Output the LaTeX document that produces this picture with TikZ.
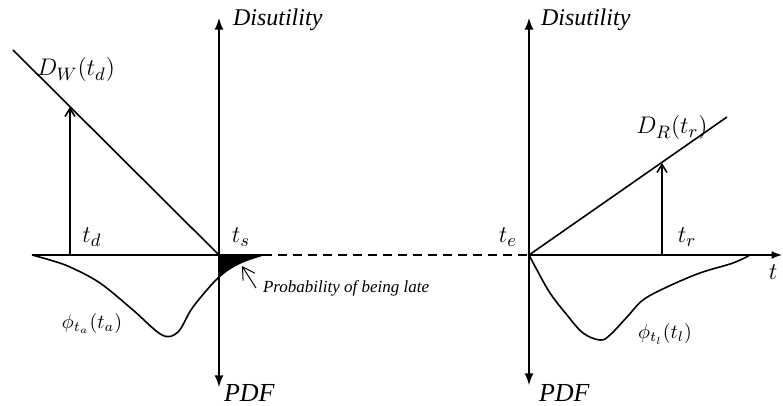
\documentclass[tikz,border=0pt]{standalone}
\usepackage{fontspec}
\setmainfont{Liberation Serif}
\usetikzlibrary{arrows.meta}

\begin{document}
\begin{tikzpicture}[x=0.5pt,y=-0.5pt,font=\fontsize{12.5}{14}\selectfont\itshape]
		\useasboundingbox (0,0) rectangle (783,406);
		\coordinate (ts) at (219,255);
		\coordinate (te) at (529,255);
		\coordinate (lateEnd) at (263,255);
		% left side
		\draw[line width=1pt,latex-latex] (219,18) -- (219,387);
		\node[anchor=west,font=\fontsize{12}{14}\selectfont\itshape] (disLeft) at (226,20) {Disutility};
		\node[anchor=west,font=\fontsize{13}{15}\selectfont\itshape] (pdfLeft) at (217,393) {PDF};
		\draw[line width=0.8pt] (32,255) -- (ts);
		\draw[line width=0.8pt] (ts) -- (lateEnd);
		\draw[line width=0.8pt] (13,50) -- (ts);
		\coordinate (tdTop) at (70,107);
		\draw[line width=0.8pt,-{Straight Barb[length=4pt,width=5pt]}] (70,255) -- (tdTop);
		\node (DW) at (76,70) {$D_W(t_d)$};
		\node (td) at (92,237) {$t_d$};
		\node (tsLabel) at (241,237) {$t_s$};
		\draw[line width=0.8pt] plot[smooth,tension=0.55] coordinates {(32,255) (50,260) (70,267) (100,283) (133,310) (162,335) (178,332) (193,307) (219,277) (240,263) (lateEnd)};
		\fill (ts) -- (lateEnd) .. controls (248,259) and (230,266) .. (219,277) -- cycle;
		\node[font=\fontsize{8.5}{10}\selectfont\itshape,anchor=west] (late) at (256,288) {Probability of being late};
		\draw[line width=0.5pt,-{Straight Barb[length=6pt,width=7pt]}] (late.west) -- (242,266);
		\node[font=\fontsize{10}{12}\selectfont] (phiA) at (92,324) {$\phi_{t_a}(t_a)$};
		% dashed link
		\draw[line width=0.8pt,dash pattern=on 4.5pt off 3pt] (lateEnd) -- (te);
		% right side
		\draw[line width=1pt,latex-latex] (529,18) -- (529,385);
		\node[anchor=west,font=\fontsize{12}{14}\selectfont\itshape] (disRight) at (534,20) {Disutility};
		\node[anchor=west,font=\fontsize{13}{15}\selectfont\itshape] (pdfRight) at (532,393) {PDF};
		\draw[line width=0.8pt,-latex] (te) -- (782,255);
		\draw[line width=0.8pt] (te) -- (727,117);
		\coordinate (trTop) at (662,163);
		\draw[line width=0.8pt,-{Straight Barb[length=4pt,width=5pt]}] (662,255) -- (trTop);
		\node (DR) at (672,128) {$D_R(t_r)$};
		\node (teLabel) at (508,237) {$t_e$};
		\node (tr) at (687,237) {$t_r$};
		\node (t) at (773,272) {$t$};
		\draw[line width=0.8pt] plot[smooth,tension=0.6] coordinates {(te) (537,270) (550,293) (567,315) (583,333) (600,340) (610,335) (627,317) (643,300) (667,287) (700,273) (733,263) (750,255)};
		\node[font=\fontsize{10}{12}\selectfont] (phiL) at (665,334) {$\phi_{t_l}(t_l)$};
\end{tikzpicture}
\end{document}
